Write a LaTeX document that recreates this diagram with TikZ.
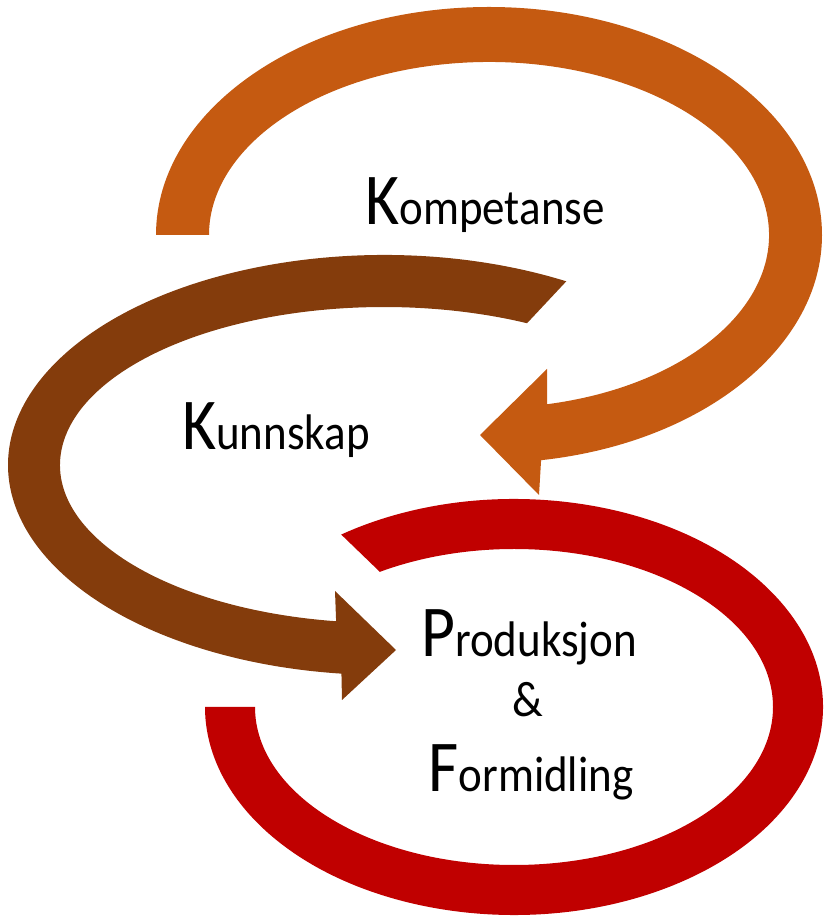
\documentclass[tikz,border=0pt]{standalone}
\usepackage{fontspec}
\setmainfont{Carlito}[FakeStretch=0.9]
\usetikzlibrary{calc}

\definecolor{kompcol}{HTML}{C55A11}
\definecolor{kunncol}{HTML}{843C0C}
\definecolor{prodcol}{HTML}{C00000}

\newcommand{\capletter}[1]{{\fontsize{73}{73}\selectfont #1}}

\begin{document}
\begin{tikzpicture}[x=1pt,y=1pt]
    \tikzset{lbl/.style={anchor=base, inner sep=0pt, font=\fontsize{50}{50}\selectfont}}
    \useasboundingbox (0,0) rectangle (825,916);

    % Define the centres of the bands
    \coordinate (komp) at (489,681);
    \coordinate (kunn) at (384,451);
    \coordinate (prod) at (514,209);

    % Draw the red band
    \fill[prodcol] ($(prod)+(124:309 and 208)$)
        arc[start angle=124, end angle=-180, x radius=309, y radius=208]
        -- ($(prod)+(180:259 and 158)$)
        arc[start angle=-180, end angle=121.2, x radius=259, y radius=158] -- cycle;

    % Draw the orange band with its arrow
    \fill[kompcol] ($(komp)+(180:333 and 228)$)
        arc[start angle=180, end angle=-81, x radius=333, y radius=228]
        -- (539,421) -- (480,481) -- (547,547)
        -- ($(komp)+(-78:280 and 173)$)
        arc[start angle=-78, end angle=180, x radius=280, y radius=173] -- cycle;

    % Draw the brown band with its arrow
    \fill[kunncol] ($(kunn)+(61:376 and 210)$)
        arc[start angle=61, end angle=263.5, x radius=376, y radius=210]
        -- (342,216) -- (396,266) -- (335,325)
        -- ($(kunn)+(261.5:324 and 158)$)
        arc[start angle=261.5, end angle=63.8, x radius=324, y radius=158] -- cycle;

    % Labels
    \node[lbl] (kompetanse) at (485,691) {\capletter{K}ompetanse};
    \node[lbl] (kunnskap) at (276,466) {\capletter{K}unnskap};
    \node[lbl] (produksjon) at (529,259) {\capletter{P}roduksjon};
    \node[lbl] (og) at (528,199) {\&};
    \node[lbl] (formidling) at (531,124) {\capletter{F}ormidling};
\end{tikzpicture}
\end{document}
